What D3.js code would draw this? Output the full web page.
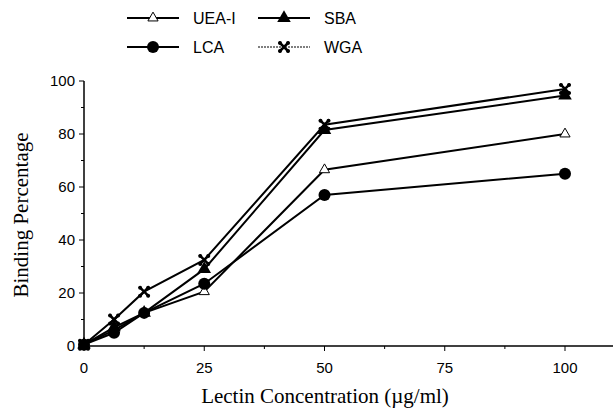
<!DOCTYPE html>
<html>
<head>
<meta charset="utf-8">
<script src="https://cdn.jsdelivr.net/npm/d3@7"></script>
<style>
  body { margin: 0; background: #fff; }
  svg { display: block; }
</style>
</head>
<body>
<div id="chart"></div>
<script>
// data
const conc = [0, 6.25, 12.5, 25, 50, 100];
const ueaI = [0.5, 6, 12.5, 20.5, 66.5, 80];
const sba  = [0.5, 7, 12.5, 29, 81.5, 94.5];
const lca  = [0.5, 5, 12.5, 23.5, 57, 65];
const wga  = [0.5, 10, 20.5, 32.5, 83.5, 97];
const xTicks = [0, 25, 50, 75, 100];
const yTicks = [0, 20, 40, 60, 80, 100];

const series = [
  {name: "UEA-I", values: ueaI, marker: "openTri"},
  {name: "SBA", values: sba, marker: "tri"},
  {name: "LCA", values: lca, marker: "circle"},
  {name: "WGA", values: wga, marker: "cross"}
];

const W = 613, H = 413;
const svg = d3.select("#chart").append("svg")
  .attr("width", W).attr("height", H);

const x = d3.scaleLinear().domain([0, 100]).range([84, 565]);
const y = d3.scaleLinear().domain([0, 100]).range([346, 81]);

// axes
const xAxis = svg.append("g")
  .attr("transform", `translate(0,${y(0)})`);
xAxis.append("line")
  .attr("x1", x(0)).attr("x2", W).attr("stroke", "#000").attr("stroke-width", 1.5);
xAxis.selectAll(".minor").data(d3.range(12.5, 110, 25)).join("line")
  .attr("x1", d => x(d)).attr("x2", d => x(d))
  .attr("y1", 0).attr("y2", 3).attr("stroke", "#000");
xAxis.selectAll(".major").data(xTicks).join("line")
  .attr("x1", d => x(d)).attr("x2", d => x(d))
  .attr("y1", 0).attr("y2", 5).attr("stroke", "#000");
xAxis.selectAll("text").data(xTicks).join("text")
  .attr("x", d => x(d)).attr("y", 27)
  .attr("text-anchor", "middle")
  .attr("font-family", "Liberation Sans, Arial, sans-serif")
  .attr("font-size", 15)
  .text(d => d);

const yAxis = svg.append("g")
  .attr("transform", `translate(${x(0)},0)`);
yAxis.append("line")
  .attr("y1", y(0)).attr("y2", y(100)).attr("stroke", "#000").attr("stroke-width", 1.5);
yAxis.selectAll(".minor").data(d3.range(10, 100, 20)).join("line")
  .attr("y1", d => y(d)).attr("y2", d => y(d))
  .attr("x1", 0).attr("x2", -3).attr("stroke", "#000");
yAxis.selectAll(".major").data(yTicks).join("line")
  .attr("y1", d => y(d)).attr("y2", d => y(d))
  .attr("x1", 0).attr("x2", -5).attr("stroke", "#000");
yAxis.selectAll("text").data(yTicks).join("text")
  .attr("x", -9).attr("y", d => y(d) + 5)
  .attr("text-anchor", "end")
  .attr("font-family", "Liberation Sans, Arial, sans-serif")
  .attr("font-size", 15)
  .text(d => d);

// titles
svg.append("text")
  .attr("x", 325).attr("y", 403)
  .attr("text-anchor", "middle")
  .attr("font-family", "Liberation Serif, Times New Roman, serif")
  .attr("font-size", 21)
  .text("Lectin  Concentration (\u00b5g/ml)");

svg.append("text")
  .attr("transform", "translate(28,215) rotate(-90)")
  .attr("text-anchor", "middle")
  .attr("font-family", "Liberation Serif, Times New Roman, serif")
  .attr("font-size", 21)
  .text("Binding Percentage");

// markers
function drawMarker(g, type) {
  if (type === "openTri") {
    g.append("path").attr("d", d3.symbol(d3.symbolTriangle, 45)())
      .attr("fill", "#fff").attr("stroke", "#000").attr("stroke-width", 1);
  } else if (type === "tri") {
    g.append("path").attr("d", d3.symbol(d3.symbolTriangle, 80)())
      .attr("fill", "#000");
  } else if (type === "circle") {
    g.append("circle").attr("r", 6).attr("fill", "#000");
  } else {
    g.append("path").attr("d", "M-5,-5L5,5M5,-5L-5,5")
      .attr("stroke", "#000").attr("stroke-width", 2.5);
    [[-4,-4],[4,-4],[-4,4],[4,4]].forEach(p => {
      g.append("circle").attr("cx", p[0]).attr("cy", p[1]).attr("r", 2).attr("fill", "#000");
    });
  }
}

const line = d3.line()
  .x((d, i) => x(conc[i]))
  .y(d => y(d));

series.forEach(s => {
  svg.append("path")
    .datum(s.values)
    .attr("fill", "none")
    .attr("stroke", "#000")
    .attr("stroke-width", 2)
    .attr("d", line);
});

series.forEach(s => {
  s.values.forEach((v, i) => {
    const g = svg.append("g").attr("transform", `translate(${x(conc[i])},${y(v)})`);
    drawMarker(g, s.marker);
  });
});

// legend
const legPos = [[127, 18], [258, 18], [127, 47], [258, 47]];
series.forEach((s, i) => {
  const [lx, ly] = legPos[i];
  const g = svg.append("g").attr("transform", `translate(${lx},${ly})`);
  g.append("line")
    .attr("x1", 0).attr("x2", 52)
    .attr("stroke", s.name === "WGA" ? "#555" : "#000")
    .attr("stroke-width", s.name === "WGA" ? 1.5 : 2)
    .attr("stroke-dasharray", s.name === "WGA" ? "2,1" : null);
  const m = g.append("g").attr("transform", "translate(26,0)");
  drawMarker(m, s.marker);
  g.append("text")
    .attr("x", 66).attr("y", 6)
    .attr("font-family", "Liberation Sans, Arial, sans-serif")
    .attr("font-size", 16)
    .text(s.name);
});
</script>
</body>
</html>
